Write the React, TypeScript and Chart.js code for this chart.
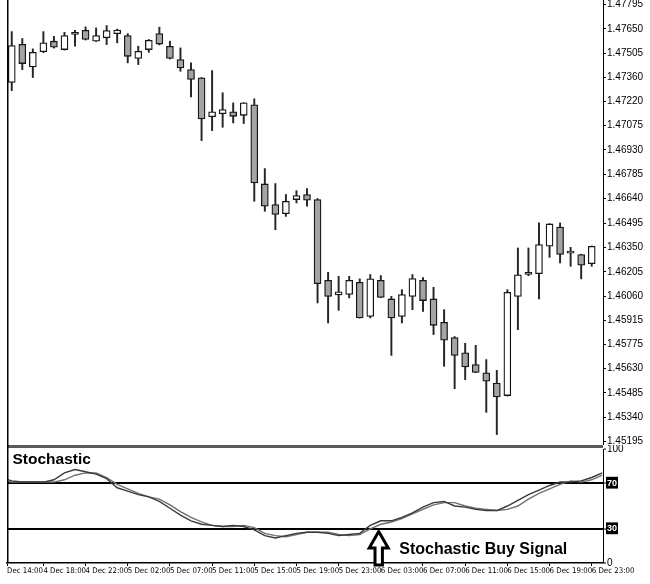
import React, { useEffect, useRef } from 'react';
import { Chart, registerables } from 'chart.js';

Chart.register(...registerables);

// ---- Hourly candles (index 0..55) ----
const openPrices = [
  1.47331, 1.47559, 1.47424, 1.47514, 1.47577, 1.47527, 1.47630, 1.47642, 1.47577, 1.47597,
  1.47621, 1.47611, 1.47474, 1.47527, 1.47622, 1.47547, 1.47468, 1.47408, 1.47359, 1.47127,
  1.47145, 1.47157, 1.47136, 1.47198, 1.46728, 1.46605, 1.46551, 1.46635, 1.46665, 1.46635,
  1.46155, 1.46068, 1.46070, 1.46143, 1.45940, 1.46155, 1.46044, 1.45940, 1.46059, 1.46155,
  1.46044, 1.45905, 1.45814, 1.45723, 1.45653, 1.45604, 1.45544, 1.45469, 1.46059, 1.46194,
  1.46194, 1.46357, 1.46472, 1.46318, 1.46308, 1.46254,
];
const highPrices = [
  1.47634, 1.47593, 1.47531, 1.47634, 1.47606, 1.47630, 1.47642, 1.47662, 1.47656, 1.47670,
  1.47649, 1.47622, 1.47547, 1.47587, 1.47660, 1.47577, 1.47537, 1.47448, 1.47361, 1.47402,
  1.47270, 1.47210, 1.47212, 1.47234, 1.46819, 1.46730, 1.46665, 1.46688, 1.46700, 1.46641,
  1.46202, 1.46178, 1.46178, 1.46163, 1.46189, 1.46183, 1.46059, 1.46099, 1.46189, 1.46171,
  1.46113, 1.45980, 1.45820, 1.45780, 1.45768, 1.45683, 1.45619, 1.46099, 1.46347, 1.46347,
  1.46496, 1.46492, 1.46496, 1.46351, 1.46310, 1.46359,
];
const lowPrices = [
  1.47283, 1.47408, 1.47361, 1.47509, 1.47536, 1.47524, 1.47547, 1.47584, 1.47575, 1.47557,
  1.47567, 1.47448, 1.47438, 1.47511, 1.47555, 1.47471, 1.47398, 1.47246, 1.46986, 1.47045,
  1.47065, 1.47091, 1.47087, 1.46625, 1.46565, 1.46456, 1.46535, 1.46615, 1.46595, 1.46020,
  1.45901, 1.45976, 1.46050, 1.45930, 1.45931, 1.46052, 1.45708, 1.45901, 1.45980, 1.45970,
  1.45832, 1.45643, 1.45510, 1.45564, 1.45605, 1.45369, 1.45237, 1.45466, 1.45861, 1.46182,
  1.46044, 1.46291, 1.46258, 1.46238, 1.46163, 1.46238,
];
const closePrices = [
  1.47551, 1.47444, 1.47511, 1.47567, 1.47541, 1.47611, 1.47617, 1.47587, 1.47611, 1.47640,
  1.47643, 1.47487, 1.47517, 1.47582, 1.47560, 1.47474, 1.47418, 1.47349, 1.47115, 1.47157,
  1.47170, 1.47130, 1.47210, 1.46734, 1.46595, 1.46546, 1.46625, 1.46659, 1.46631, 1.46135,
  1.46059, 1.46086, 1.46155, 1.45931, 1.46163, 1.46053, 1.45931, 1.46070, 1.46165, 1.46034,
  1.45887, 1.45798, 1.45708, 1.45639, 1.45607, 1.45554, 1.45461, 1.46083, 1.46187, 1.46190,
  1.46367, 1.46490, 1.46308, 1.46316, 1.46244, 1.46357,
];

const priceTickLabels = [
  '1.47795', '1.47650', '1.47505', '1.47360', '1.47220', '1.47075', '1.46930', '1.46785',
  '1.46640', '1.46495', '1.46350', '1.46205', '1.46060', '1.45915', '1.45775', '1.45630',
  '1.45485', '1.45340', '1.45195',
];

const timeTickLabels = [
  'Dec 14:00', '4 Dec 18:00', '4 Dec 22:00', '5 Dec 02:00', '5 Dec 07:00', '5 Dec 11:00',
  '5 Dec 15:00', '5 Dec 19:00', '5 Dec 23:00', '6 Dec 03:00', '6 Dec 07:00', '6 Dec 11:00',
  '6 Dec 15:00', '6 Dec 19:00', '6 Dec 23:00',
];
const X_MIN = -0.45;
const X_MAX = 56.07;
const timeTickIndex = [X_MIN, 3, 7, 11, 15, 19, 23, 27, 31, 35, 39, 43, 47, 51, 55];

// ---- Stochastic oscillator (index -1..56) ----
const stochFirstIndex = -1;
const stochMain = [
  75, 72, 71, 71, 71, 73, 79, 82, 80, 78, 74, 66, 63, 60, 58, 54, 48, 42, 37, 34,
  33, 32, 33, 32, 29, 24, 22, 24, 26, 27, 27, 26, 24, 25, 26, 33, 37, 37, 40, 44,
  49, 53, 54, 50, 49, 47, 46, 46, 50, 55, 60, 64, 68, 71, 71, 72, 75, 79,
];
const stochSignal = [
  72, 71, 71, 71, 71, 71, 73, 77, 79, 79, 75, 69, 65, 61, 58, 56, 51, 45, 40, 36,
  33, 32, 32, 33, 31, 26, 24, 23, 25, 27, 27, 27, 25, 24, 25, 30, 34, 36, 39, 43,
  47, 51, 53, 53, 50, 48, 47, 46, 47, 50, 56, 61, 65, 69, 72, 71, 73, 77,
];
const stochLevels = [0, 30, 70, 100];
const highlightedLevels = [30, 70];

const PRICE_MIN = 1.45175;
const PRICE_MAX = 1.47822;

const panelTitle = 'Stochastic';
const signalText = 'Stochastic Buy Signal';
const signalArrowIndex = 34.8;
const signalArrowValue = 29;
const signalTextIndex = 36.75;
const signalTextValue = 8.1;

const SANS = "'Liberation Sans', Arial, Helvetica, sans-serif";
const NARROW = "'Liberation Sans Narrow', 'Arial Narrow', 'DejaVu Sans Condensed', sans-serif";

const leftFrame = {
  id: 'leftFrame',
  afterDraw(chart: any) {
    const { ctx, chartArea: a } = chart;
    ctx.save();
    ctx.strokeStyle = '#000';
    ctx.lineWidth = 1.5;
    ctx.beginPath();
    ctx.moveTo(a.left + 0.75, 0);
    ctx.lineTo(a.left + 0.75, a.bottom);
    ctx.stroke();
    ctx.restore();
  },
};

const stochDecor = {
  id: 'stochDecor',
  afterDraw(chart: any) {
    const { ctx, chartArea: a, scales } = chart;
    const xs = scales.x;
    const ys = scales.y;
    ctx.save();
    // panel separator
    ctx.strokeStyle = '#5a5a5a';
    ctx.lineWidth = 3;
    ctx.beginPath();
    ctx.moveTo(a.left, 1.5);
    ctx.lineTo(a.right, 1.5);
    ctx.stroke();
    // left frame
    ctx.strokeStyle = '#000';
    ctx.lineWidth = 1.5;
    ctx.beginPath();
    ctx.moveTo(a.left + 0.75, 0);
    ctx.lineTo(a.left + 0.75, a.bottom);
    ctx.stroke();
    // title
    ctx.fillStyle = '#000';
    ctx.font = `bold 15.5px ${SANS}`;
    ctx.textAlign = 'left';
    ctx.textBaseline = 'alphabetic';
    ctx.fillText(panelTitle, a.left + 5.5, a.top + 15);
    // signal text
    ctx.font = `bold 16px ${SANS}`;
    ctx.fillText(signalText, xs.getPixelForValue(signalTextIndex), ys.getPixelForValue(signalTextValue));
    // arrow
    const cx = xs.getPixelForValue(signalArrowIndex);
    const ty = ys.getPixelForValue(signalArrowValue) + 1.5;
    const headW = 9.5, headH = 16.5, shaftW = 3.7, len = 33.5;
    ctx.beginPath();
    ctx.moveTo(cx, ty);
    ctx.lineTo(cx + headW, ty + headH);
    ctx.lineTo(cx + shaftW, ty + headH);
    ctx.lineTo(cx + shaftW, ty + len);
    ctx.lineTo(cx - shaftW, ty + len);
    ctx.lineTo(cx - shaftW, ty + headH);
    ctx.lineTo(cx - headW, ty + headH);
    ctx.closePath();
    ctx.fillStyle = '#fff';
    ctx.fill();
    ctx.lineWidth = 3;
    ctx.lineJoin = 'miter';
    ctx.strokeStyle = '#000';
    ctx.stroke();
    ctx.restore();
  },
};

const isHi = (ctx: any) => !!ctx.tick && highlightedLevels.includes(ctx.tick.value);

export default function App() {
  const topRef = useRef<HTMLCanvasElement>(null);
  const botRef = useRef<HTMLCanvasElement>(null);

  useEffect(() => {
    const top = new Chart(topRef.current as HTMLCanvasElement, {
      type: 'bar',
      data: {
        datasets: [
          {
            label: 'body',
            data: openPrices.map((o, i) => ({ x: i, y: [o, closePrices[i]] })) as any,
            backgroundColor: openPrices.map((o, i) => (closePrices[i] >= o ? '#ffffff' : '#a4a4a4')),
            borderColor: '#161616',
            borderWidth: 1.3,
            borderSkipped: false,
            barThickness: 7,
            minBarLength: 2,
            grouped: false,
            order: 1,
          } as any,
          {
            label: 'wick',
            data: highPrices.map((h, i) => ({ x: i, y: [lowPrices[i], h] })) as any,
            backgroundColor: '#262626',
            borderWidth: 0,
            barThickness: 1.3,
            grouped: false,
            order: 2,
          } as any,
        ],
      },
      options: {
        responsive: false,
        animation: false,
        events: [],
        layout: { padding: { left: 7, top: 0, right: 0, bottom: 0 } },
        plugins: { legend: { display: false }, tooltip: { enabled: false } },
        scales: {
          x: { type: 'linear', min: X_MIN, max: X_MAX, offset: false, display: false, grid: { offset: false } },
          y: {
            type: 'linear',
            position: 'right',
            min: PRICE_MIN,
            max: PRICE_MAX,
            afterBuildTicks: (s: any) => {
              s.ticks = priceTickLabels.map((l) => ({ value: parseFloat(l) }));
            },
            afterFit: (s: any) => {
              s.width = 47;
              s.paddingTop = 0;
              s.paddingBottom = 0;
            },
            ticks: {
              autoSkip: false,
              padding: 1,
              color: '#000',
              font: { family: SANS, size: 10 },
              callback: (_v: any, i: number) => priceTickLabels[i],
            },
            grid: { drawOnChartArea: false, drawTicks: true, tickLength: 3, color: '#000' },
            border: { display: true, color: '#000', width: 1 },
          } as any,
        },
      },
      plugins: [leftFrame],
    });

    const bot = new Chart(botRef.current as HTMLCanvasElement, {
      type: 'line',
      data: {
        datasets: [
          {
            label: '%K',
            data: stochMain.map((v, k) => ({ x: stochFirstIndex + k, y: v })),
            borderColor: '#3a3a3a',
            borderWidth: 1.4,
            pointRadius: 0,
            tension: 0,
          },
          {
            label: '%D',
            data: stochSignal.map((v, k) => ({ x: stochFirstIndex + k, y: v })),
            borderColor: '#707070',
            borderWidth: 1.4,
            pointRadius: 0,
            tension: 0,
          },
        ],
      },
      options: {
        responsive: false,
        animation: false,
        events: [],
        layout: { padding: { left: 7, top: 4, right: 0, bottom: 0 } },
        plugins: { legend: { display: false }, tooltip: { enabled: false } },
        scales: {
          x: {
            type: 'linear',
            position: 'bottom',
            min: X_MIN,
            max: X_MAX,
            offset: false,
            afterBuildTicks: (s: any) => {
              s.ticks = timeTickIndex.map((v) => ({ value: v }));
            },
            afterFit: (s: any) => {
              s.height = 21;
              s.paddingLeft = 0;
              s.paddingRight = 0;
            },
            ticks: {
              autoSkip: false,
              maxRotation: 0,
              minRotation: 0,
              align: 'start',
              padding: 0.5,
              color: '#000',
              font: { family: NARROW, size: 7.8 },
              callback: (_v: any, i: number) => timeTickLabels[i],
            },
            grid: { drawOnChartArea: false, drawTicks: true, tickLength: 3, color: '#000' },
            border: { display: true, color: '#000', width: 1.5 },
          } as any,
          y: {
            type: 'linear',
            position: 'right',
            min: 0,
            max: 100,
            afterBuildTicks: (s: any) => {
              s.ticks = stochLevels.map((v) => ({ value: v }));
            },
            afterFit: (s: any) => {
              s.width = 47;
              s.paddingTop = 0;
              s.paddingBottom = 0;
            },
            ticks: {
              autoSkip: false,
              padding: 1,
              color: (ctx: any) => (isHi(ctx) ? '#fff' : '#000'),
              font: (ctx: any) =>
                isHi(ctx) ? { family: SANS, size: 9, weight: 'bold' } : { family: SANS, size: 10 },
              showLabelBackdrop: (ctx: any) => isHi(ctx),
              backdropColor: '#000',
              backdropPadding: { top: 1, bottom: 0, left: 1, right: 1 },
              callback: (v: any) => String(v),
            },
            grid: {
              drawOnChartArea: true,
              drawTicks: true,
              tickLength: 3,
              color: (ctx: any) => (isHi(ctx) ? '#000' : 'rgba(0,0,0,0)'),
              lineWidth: (ctx: any) => (isHi(ctx) ? 2 : 0),
              tickColor: '#000',
              tickWidth: 1,
            },
            border: { display: true, color: '#000', width: 1 },
          } as any,
        },
      },
      plugins: [stochDecor],
    });

    return () => {
      top.destroy();
      bot.destroy();
    };
  }, []);

  return (
    <div style={{ position: 'fixed', left: 0, top: 0, width: 650, height: 584, background: '#fff' }}>
      <canvas
        ref={topRef}
        width={650}
        height={445}
        style={{ position: 'absolute', left: 0, top: 0, width: 650, height: 445 }}
      />
      <canvas
        ref={botRef}
        width={650}
        height={139}
        style={{ position: 'absolute', left: 0, top: 445, width: 650, height: 139 }}
      />
    </div>
  );
}
